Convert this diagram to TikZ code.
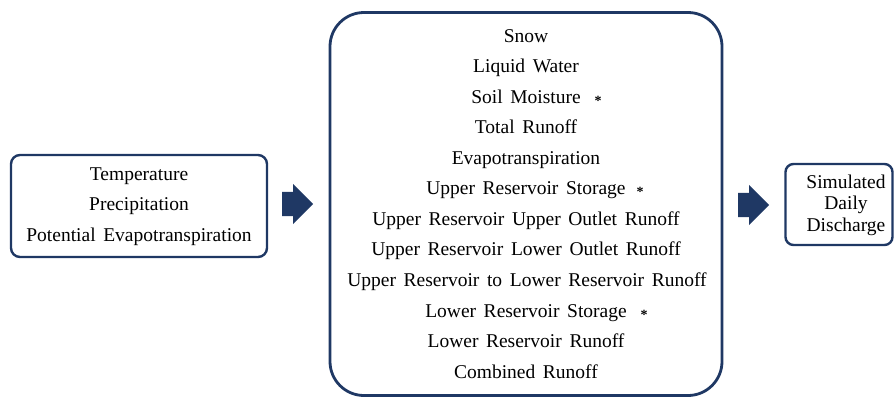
\documentclass[tikz,border=0pt]{standalone}
\usepackage{fontspec}
\setmainfont{Liberation Serif}
\usetikzlibrary{shapes.arrows}
\definecolor{navy}{HTML}{1F3864}
\newcommand{\ws}{\hspace{0.14em} }
\tikzset{
  panel/.style={draw=navy, line width=2.4pt, fill=white, inner sep=0pt},
  label/.style={inner sep=0pt, font=\fontsize{19.5}{19.5}\selectfont, anchor=center,
    text height=13pt, text depth=3pt},
  starmark/.style={inner sep=0pt, font=\fontsize{14}{14}\selectfont\bfseries, anchor=center},
  blockarrow/.style={single arrow, fill=navy, draw=none, inner sep=0pt,
    text height=24pt, text depth=0pt, text width=0pt, anchor=tail,
    minimum height=31pt, minimum width=40pt, single arrow head extend=8pt}
}
\begin{document}
\begin{tikzpicture}[x=1pt, y=-1pt]
  \useasboundingbox (0,0) rectangle (896,399);

  % input box
  \node[panel, rounded corners=9pt, minimum width=256pt, minimum height=102pt]
    (inputs) at (139,206) {};
  \node[label] (temp)   at (139,175) {Temperature};
  \node[label] (precip) at (139,205) {Precipitation};
  \node[label] (pet)    at (139,236) {Potential\ws Evapotranspiration};

  % model state box
  \node[panel, line width=2.8pt, rounded corners=34pt, minimum width=392pt, minimum height=383pt]
    (model) at (526,204) {};
  \node[label] (s1)  at (526,37)  {Snow};
  \node[label] (s2)  at (526,67)  {Liquid\ws Water};
  \node[label] (s3)  at (526,98)  {Soil\ws Moisture};
  \node[label] (s4)  at (526,128) {Total\ws Runoff};
  \node[label] (s5)  at (526,159) {Evapotranspiration};
  \node[label] (s6)  at (526,189) {Upper\ws Reservoir\ws Storage};
  \node[label] (s7)  at (526,220) {Upper\ws Reservoir\ws Upper\ws Outlet\ws Runoff};
  \node[label] (s8)  at (526,250) {Upper\ws Reservoir\ws Lower\ws Outlet\ws Runoff};
  \node[label] (s9)  at (527,281) {Upper\ws Reservoir\ws to\ws Lower\ws Reservoir\ws Runoff};
  \node[label] (s10) at (526,312) {Lower\ws Reservoir\ws Storage};
  \node[label] (s11) at (526,342) {Lower\ws Reservoir\ws Runoff};
  \node[label] (s12) at (526,373) {Combined\ws Runoff};
  \node[starmark] (m3)  at (598,101) {*};
  \node[starmark] (m6)  at (640,192) {*};
  \node[starmark] (m10) at (644,315) {*};

  % output box
  \node[panel, rounded corners=8pt, minimum width=107pt, minimum height=81pt]
    (output) at (839,204.5) {};
  \node[label] (o1) at (846,183) {Simulated};
  \node[label] (o2) at (846,204) {Daily};
  \node[label] (o3) at (846,226) {Discharge};

  % flow arrows
  \node[blockarrow] (a1) at (282,204) {};
  \node[blockarrow] (a2) at (738,205) {};
\end{tikzpicture}
\end{document}
